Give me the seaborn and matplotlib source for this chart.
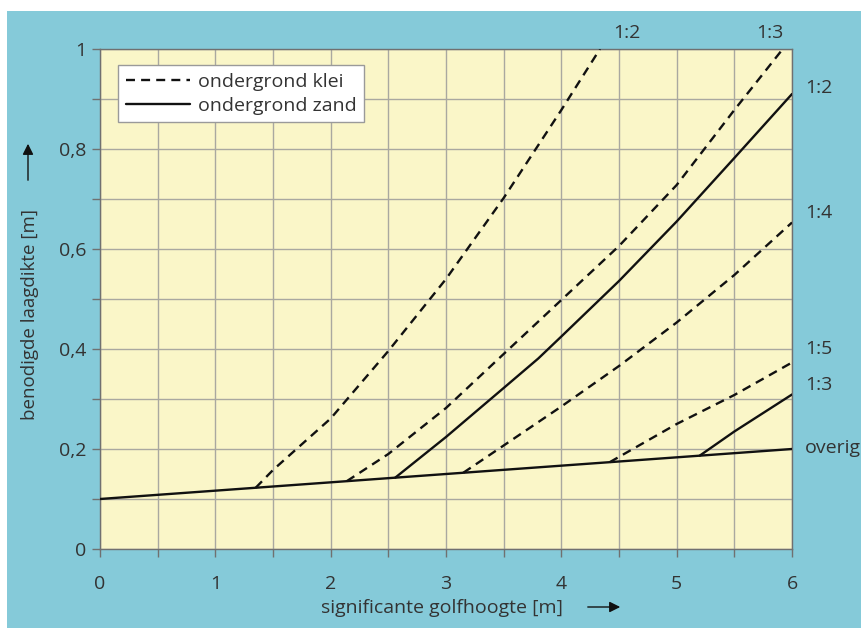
import matplotlib
matplotlib.use('Agg')
import matplotlib.pyplot as plt
from matplotlib.ticker import MultipleLocator, FuncFormatter
from matplotlib.lines import Line2D
from matplotlib.patches import Rectangle
import seaborn as sns
import pandas as pd

# Significante golfhoogte [m] vs benodigde laagdikte [m]
base_x = [0.0, 6.0]
base_y = [0.10, 0.20]

klei_12_x = [1.35, 1.5, 2.0, 2.5, 3.0, 3.5, 4.0, 4.335]
klei_12_y = [0.1225, 0.158, 0.261, 0.396, 0.540, 0.702, 0.878, 1.0]

klei_13_x = [2.14, 2.5, 3.0, 3.5, 4.0, 4.5, 5.0, 5.5, 5.92]
klei_13_y = [0.1357, 0.19, 0.282, 0.39, 0.498, 0.606, 0.728, 0.878, 1.0]

zand_12_x = [2.56, 3.0, 3.5, 3.8, 4.0, 4.5, 5.0, 5.5, 6.0]
zand_12_y = [0.1427, 0.224, 0.322, 0.381, 0.425, 0.536, 0.655, 0.782, 0.91]

klei_14_x = [3.15, 3.5, 4.0, 4.5, 5.0, 5.5, 6.0]
klei_14_y = [0.1525, 0.207, 0.285, 0.366, 0.453, 0.548, 0.653]

klei_15_x = [4.42, 5.0, 5.5, 6.0]
klei_15_y = [0.1737, 0.25, 0.308, 0.373]

zand_13_x = [5.2, 5.5, 6.0]
zand_13_y = [0.1867, 0.235, 0.309]

curves = [
    ('overig', 'zand', base_x, base_y),
    ('klei 1:2', 'klei', klei_12_x, klei_12_y),
    ('klei 1:3', 'klei', klei_13_x, klei_13_y),
    ('zand 1:2', 'zand', zand_12_x, zand_12_y),
    ('klei 1:4', 'klei', klei_14_x, klei_14_y),
    ('klei 1:5', 'klei', klei_15_x, klei_15_y),
    ('zand 1:3', 'zand', zand_13_x, zand_13_y),
]

# slope labels: (text, x, y) in data units, outside the axes
top_labels = [('1:2', 4.57, 1.031), ('1:3', 5.81, 1.031)]
side_labels = [('1:2', 0.922), ('1:4', 0.672), ('1:5', 0.40), ('1:3', 0.328), ('overig', 0.202)]

sns.set_style('white')
plt.rcParams['font.family'] = ['Open Sans', 'DejaVu Sans']

BLUE = '#85cad9'
YELLOW = '#faf6c8'
INK = '#111111'
TXT = '#333333'
FS = 14

fig = plt.figure(figsize=(8.61, 6.28), dpi=100, facecolor='white')
fig.patches.append(Rectangle((7 / 861, 0), 1, (628 - 11) / 628, transform=fig.transFigure,
                             facecolor=BLUE, edgecolor='none', zorder=-10))
ax = fig.add_axes([100 / 861, (628 - 549) / 628, 692 / 861, 500 / 628])
ax.set_facecolor(YELLOW)

rows = []
for name, grond, xs, ys in curves:
    for x, y in zip(xs, ys):
        rows.append({'x': x, 'y': y, 'curve': name, 'grond': grond})
df = pd.DataFrame(rows)

for name, cdf in df.groupby('curve', sort=False):
    dashed = cdf['grond'].iloc[0] == 'klei'
    line = sns.lineplot(data=cdf, x='x', y='y', ax=ax, color=INK, lw=1.7,
                        estimator=None, sort=True, legend=False, zorder=3)
    line.lines[-1].set_solid_joinstyle('round')
    if dashed:
        line.lines[-1].set_dashes((3.8, 2.6))

ax.set_xlim(0, 6)
ax.set_ylim(0, 1)
ax.xaxis.set_major_locator(MultipleLocator(1))
ax.xaxis.set_minor_locator(MultipleLocator(0.5))
ax.yaxis.set_major_locator(MultipleLocator(0.2))
ax.yaxis.set_minor_locator(MultipleLocator(0.1))
ax.yaxis.set_major_formatter(FuncFormatter(lambda v, p: '{:g}'.format(round(v, 2)).replace('.', ',')))
ax.grid(True, which='both', color='#a9a8a0', lw=1.0, zorder=0)
ax.set_axisbelow(True)
for s in ax.spines.values():
    s.set_color('#707070')
    s.set_linewidth(1.0)
ax.tick_params(which='both', direction='out', length=6, width=1, color='#707070',
               labelcolor=TXT, labelsize=FS, bottom=True, left=True)
ax.tick_params(axis='x', pad=13)
ax.tick_params(axis='y', pad=4)

ax.set_xlabel('significante golfhoogte [m]', fontsize=FS, color=TXT)
ax.xaxis.set_label_coords(0.494, -0.10)
ax.set_ylabel('benodigde laagdikte [m]', fontsize=FS - 0.5, color=TXT)
ax.yaxis.set_label_coords(-0.088, 0.47)

# arrows next to the axis labels
ax.annotate('', xy=(623 / 861, 21 / 628), xytext=(585 / 861, 21 / 628),
            xycoords='figure fraction', textcoords='figure fraction',
            arrowprops=dict(arrowstyle='-|>', color=INK, lw=1.0, mutation_scale=16))
ax.annotate('', xy=(28 / 861, (628 - 141) / 628), xytext=(28 / 861, (628 - 183) / 628),
            xycoords='figure fraction', textcoords='figure fraction',
            arrowprops=dict(arrowstyle='-|>', color=INK, lw=1.0, mutation_scale=16))

for t, x, y in top_labels:
    ax.text(x, y, t, ha='center', va='center', fontsize=FS, color=TXT, clip_on=False)
for t, y in side_labels:
    ax.text(6.113, y, t, ha='left', va='center', fontsize=FS, color=TXT, clip_on=False)

handles = [Line2D([], [], color=INK, lw=1.7, dashes=(3.8, 2.6)),
           Line2D([], [], color=INK, lw=1.7)]
leg = ax.legend(handles, ['ondergrond klei', 'ondergrond zand'], loc='upper left',
                bbox_to_anchor=(0.026, 0.968), borderaxespad=0, fontsize=FS,
                handlelength=3.3, handletextpad=0.4, labelspacing=0.3,
                borderpad=0.4, fancybox=False, framealpha=1, labelcolor=TXT)
leg.get_frame().set_edgecolor('#9a9a9a')
leg.get_frame().set_linewidth(1.0)
leg.set_zorder(5)

fig.savefig('out.png', dpi=100, facecolor='white')
